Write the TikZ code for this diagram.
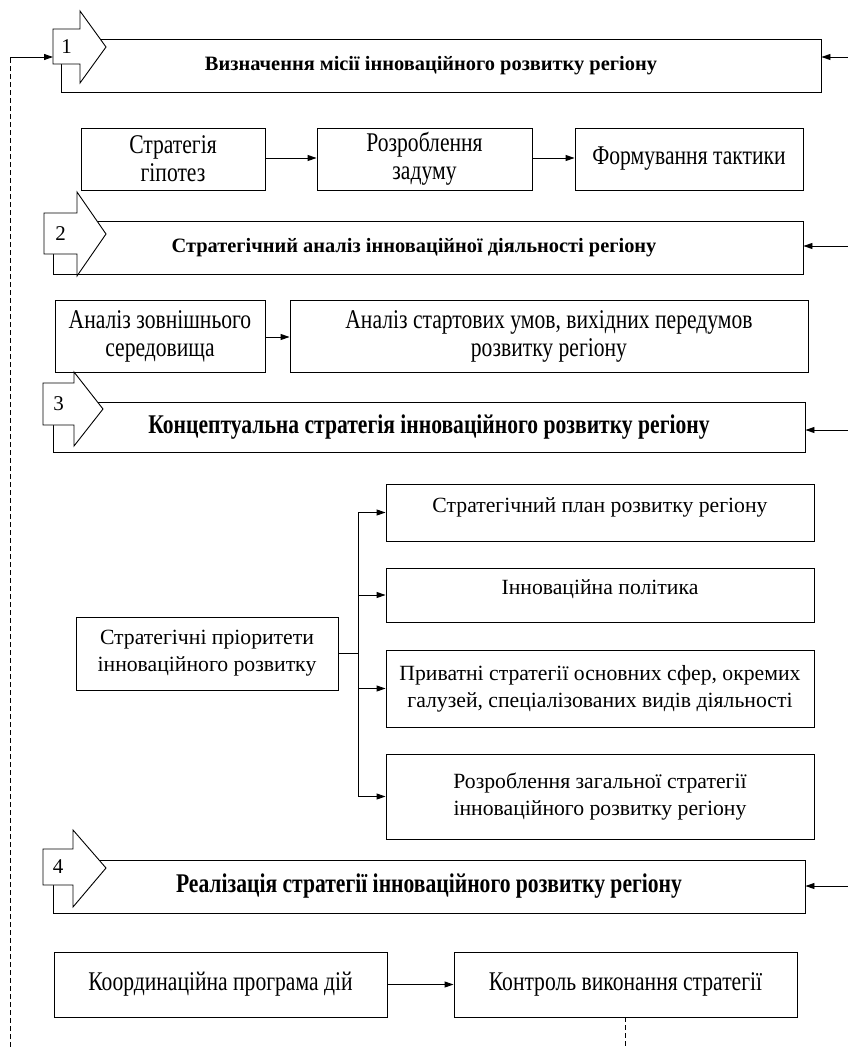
\documentclass[tikz,border=0pt]{standalone}
\usepackage{fontspec}
\setmainfont{Liberation Serif}
\newfontfamily\condfont[FakeStretch=0.8]{Liberation Serif}
\usetikzlibrary{arrows.meta}

\tikzset{
  box/.style={draw, line width=0.9pt, align=center, inner sep=2pt,
    font=\fontsize{21.7}{27}\selectfont},
  upper/.style={text depth=15pt},
  condbox/.style={box, font=\condfont\fontsize{27}{28}\selectfont},
  stage/.style={draw, line width=0.9pt, align=center, inner sep=2pt,
    font=\bfseries\fontsize{20.4}{24}\selectfont},
  condstage/.style={stage, font=\condfont\bfseries\fontsize{27}{28}\selectfont},
  badge/.style={draw, fill=white, line width=0.9pt},
  num/.style={font=\fontsize{21}{24}\selectfont, inner sep=0pt},
  arr/.style={-{Triangle[length=9pt,width=6pt]}, line width=0.9pt},
  fback/.style={dash pattern=on 5pt off 3pt, line width=0.7pt}
}

\begin{document}
\begin{tikzpicture}[x=1pt, y=-1pt]
  \useasboundingbox (0,0) rectangle (848,1047);

  %%%%%%%%%%%Stage 1%%%%%%%%%%%
  \node[stage, minimum width=760pt, minimum height=53pt] (s1) at (441,65.5)
    {\hspace*{-20pt}Визначення місії інноваційного розвитку регіону};
  \draw[badge] (53,29) -- (80,29) -- (80,11) -- (106,47) -- (80,83)
    -- (80,64) -- (53,64) -- cycle;
  \node[num] (n1) at (66.5,46.5) {1};
  \coordinate (b1) at (53,57);

  \node[condbox, minimum width=184pt, minimum height=62pt] (a1) at (173,159)
    {Стратегія\\гіпотез};
  \node[condbox, minimum width=215pt, minimum height=62pt] (a2) at (424.5,159)
    {Розроблення\\задуму};
  \node[condbox, minimum width=228pt, minimum height=62pt] (a3) at (689,159)
    {Формування тактики};
  \draw[arr] (a1.east |- 0,158) -- (a2.west |- 0,158);
  \draw[arr] (a2.east |- 0,158) -- (a3.west |- 0,158);

  %%%%%%%%%%%Stage 2%%%%%%%%%%%
  \node[stage, minimum width=750pt, minimum height=53pt] (s2) at (428,247.5)
    {\hspace*{-28pt}Стратегічний аналіз інноваційної діяльності регіону};
  \draw[badge] (44,213) -- (77,213) -- (77,192) -- (106,234) -- (77,276)
    -- (77,254) -- (44,254) -- cycle;
  \node[num] (n2) at (60.5,233.5) {2};

  \node[condbox, minimum width=210pt, minimum height=72pt] (c1) at (160,336)
    {Аналіз зовнішнього\\середовища};
  \node[condbox, minimum width=518pt, minimum height=72pt] (c2) at (549,336)
    {Аналіз стартових умов, вихідних передумов\\розвитку регіону};
  \draw[arr] (c1.east |- 0,337) -- (c2.west |- 0,337);

  %%%%%%%%%%%Stage 3%%%%%%%%%%%
  \node[condstage, minimum width=752pt, minimum height=50pt] (s3) at (429,427)
    {Концептуальна стратегія інноваційного розвитку регіону};
  \draw[badge] (43,383) -- (74,383) -- (74,372) -- (103,409) -- (74,446)
    -- (74,425) -- (43,425) -- cycle;
  \node[num] (n3) at (58.5,404) {3};

  \node[box, minimum width=262pt, minimum height=73pt] (p) at (207,653.5)
    {Стратегічні пріоритети\\інноваційного розвитку};
  \node[box, upper, minimum width=428pt, minimum height=57pt] (q1) at (600,512.5)
    {Стратегічний план розвитку регіону};
  \node[box, upper, minimum width=428pt, minimum height=54pt] (q2) at (600,595)
    {Інноваційна політика};
  \node[box, minimum width=428pt, minimum height=77pt] (q3) at (600,688.5)
    {Приватні стратегії основних сфер, окремих\\галузей, спеціалізованих видів діяльності};
  \node[box, minimum width=428pt, minimum height=85pt] (q4) at (600,796.5)
    {Розроблення загальної стратегії\\інноваційного розвитку регіону};
  \coordinate (j) at (358,653.5);
  \draw[line width=0.7pt] (p.east) -- (j);
  \draw[line width=0.9pt] (j |- q1.west) -- (j |- q4.west);
  \foreach \q in {q1,q2,q3,q4}
    \draw[arr] (j |- \q.west) -- (\q.west);

  %%%%%%%%%%%Stage 4%%%%%%%%%%%
  \node[condstage, minimum width=752pt, minimum height=53pt] (s4) at (429,886.5)
    {Реалізація стратегії інноваційного розвитку регіону};
  \draw[badge] (43,849) -- (73,849) -- (73,830) -- (106,868) -- (73,907)
    -- (73,885) -- (43,885) -- cycle;
  \node[num] (n4) at (58,867) {4};

  \node[condbox, minimum width=333pt, minimum height=65pt] (k1) at (220.5,984.5)
    {Координаційна програма дій};
  \node[condbox, minimum width=343pt, minimum height=65pt] (k2) at (625.5,984.5)
    {Контроль виконання стратегії};
  \draw[arr] (k1) -- (k2);

  %%%%%%%%%%%Feedback lines%%%%%%%%%%%
  \coordinate (fb top) at (10,57);
  \coordinate (fb bot) at (10,1047);
  \coordinate (kb) at (625.5,1047);
  \draw[fback] (fb bot) -- (fb top);
  \draw[arr] (fb top) -- (b1);
  \draw[fback] (k2.south) -- (kb);

  \coordinate (r1) at (848,57);
  \coordinate (r2) at (848,246);
  \coordinate (r3) at (848,430);
  \coordinate (r4) at (848,886);
  \foreach \r/\s in {r1/s1,r2/s2,r3/s3,r4/s4}
    \draw[arr] (\r) -- (\s.east |- \r);
\end{tikzpicture}
\end{document}
